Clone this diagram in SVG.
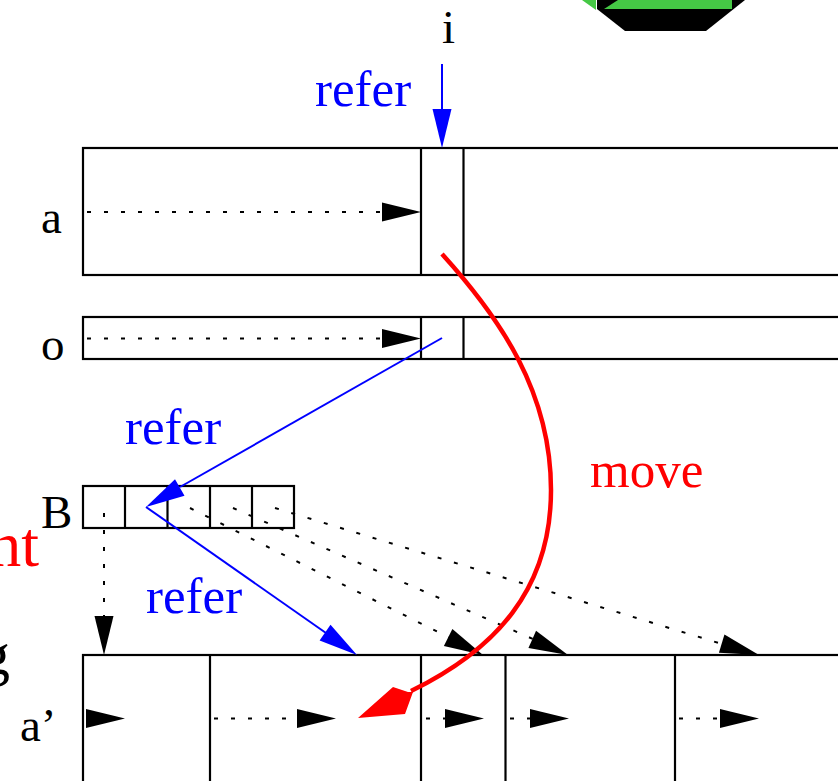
<svg xmlns="http://www.w3.org/2000/svg" width="838" height="781" viewBox="0 0 838 781">
<style>
text{font-family:"Liberation Serif","Times New Roman",serif;font-size:47px}
.lab{font-size:51px}
.big{font-size:64px}
.k{fill:#000}.b{fill:#00f}.r{fill:#f00}
.box{fill:#fff;stroke:#000;stroke-width:2.200}
.div{stroke:#000;stroke-width:2.200}
.dot{fill:none;stroke:#000;stroke-width:2;stroke-dasharray:4 13}
.head{fill:#000}
.blue{fill:none;stroke:#00f;stroke-width:2}
</style>
<defs>
<polygon id="ah" points="0,0 -39,-9.500 -39,9.500"/>
</defs>
<g id="blob">
<polygon points="597,0 745,0 706,31 625,31 597,9" fill="#000"/>
<polygon points="604,9 618,0 732,0 732,9" fill="#45c845"/>
<polygon points="582,0 596,0 596,10" fill="#45c845"/>
</g>
<g id="node-a">
<rect class="box" x="83" y="148" width="770" height="127"/>
<line class="div" x1="421" y1="148" x2="421" y2="275"/>
<line class="div" x1="463.500" y1="148" x2="463.500" y2="275"/>
<text x="41" y="233" class="k">a</text>
</g>
<g id="node-o">
<rect class="box" x="83" y="317" width="770" height="42"/>
<line class="div" x1="421" y1="317" x2="421" y2="359"/>
<line class="div" x1="463.500" y1="317" x2="463.500" y2="359"/>
<text x="41" y="360" class="k">o</text>
</g>
<g id="node-B">
<rect class="box" x="83" y="486" width="211" height="42"/>
<line class="div" x1="125" y1="486" x2="125" y2="528"/>
<line class="div" x1="167.500" y1="486" x2="167.500" y2="528"/>
<line class="div" x1="210" y1="486" x2="210" y2="528"/>
<line class="div" x1="252" y1="486" x2="252" y2="528"/>
<text x="41" y="528" class="k">B</text>
</g>
<g id="node-a-prime">
<rect class="box" x="83" y="655" width="770" height="140"/>
<line class="div" x1="210" y1="655" x2="210" y2="781"/>
<line class="div" x1="421" y1="655" x2="421" y2="781"/>
<line class="div" x1="505.500" y1="655" x2="505.500" y2="781"/>
<line class="div" x1="675" y1="655" x2="675" y2="781"/>
<text x="20" y="741" class="k">a’</text>
</g>
<g id="labels">
<text x="442" y="43" class="k">i</text>
<text x="315" y="106" class="b lab">refer</text>
<text x="125" y="444" class="b lab">refer</text>
<text x="146" y="613" class="b lab">refer</text>
<text x="590" y="487" class="r lab">move</text>
<text x="39" y="566" class="r big" text-anchor="end">nt</text>
<text x="10" y="674" class="k big" text-anchor="end" style="font-size:60px">g</text>
</g>
<g id="connectors">
<line class="blue" x1="442" y1="64" x2="442" y2="110"/>
<use href="#ah" transform="translate(442,148) rotate(90)" fill="#00f"/>
<path class="dot" d="M87,212H382"/>
<use href="#ah" class="head" transform="translate(421,212)"/>
<path class="dot" d="M87,338.500H382"/>
<use href="#ah" class="head" transform="translate(421,338.500)"/>
<line class="blue" x1="442" y1="338" x2="180" y2="487"/>
<use href="#ah" transform="translate(146,507) rotate(150)" fill="#00f"/>
<line class="blue" x1="146" y1="507" x2="326" y2="633"/>
<use href="#ah" transform="translate(357,655) rotate(35)" fill="#00f"/>
<path class="dot" d="M104,513V617"/>
<use href="#ah" class="head" transform="translate(104,655) rotate(90)"/>
<path class="dot" d="M190,508L450,638"/>
<use href="#ah" class="head" transform="translate(483,655) rotate(26.600)"/>
<path class="dot" d="M233,508L533,639"/>
<use href="#ah" class="head" transform="translate(568,655) rotate(23.600)"/>
<path class="dot" d="M275,508L722,644"/>
<use href="#ah" class="head" transform="translate(759,655) rotate(16.900)"/>
<use href="#ah" class="head" transform="translate(125,718.500)"/>
<path class="dot" d="M214,718.500H297"/>
<use href="#ah" class="head" transform="translate(336,718.500)"/>
<path class="dot" d="M426,718.500H445"/>
<use href="#ah" class="head" transform="translate(484,718.500)"/>
<path class="dot" d="M510,718.500H530"/>
<use href="#ah" class="head" transform="translate(569,718.500)"/>
<path class="dot" d="M679,718.500H720"/>
<use href="#ah" class="head" transform="translate(759,718.500)"/>
<path d="M442,254C500,318 551,392 551,490C551,590 495,650 411,691" fill="none" stroke="#f00" stroke-width="4.500"/>
<polygon points="358,718 393,687 408,692 413,692 405,714" fill="#f00"/>
</g>
</svg>
